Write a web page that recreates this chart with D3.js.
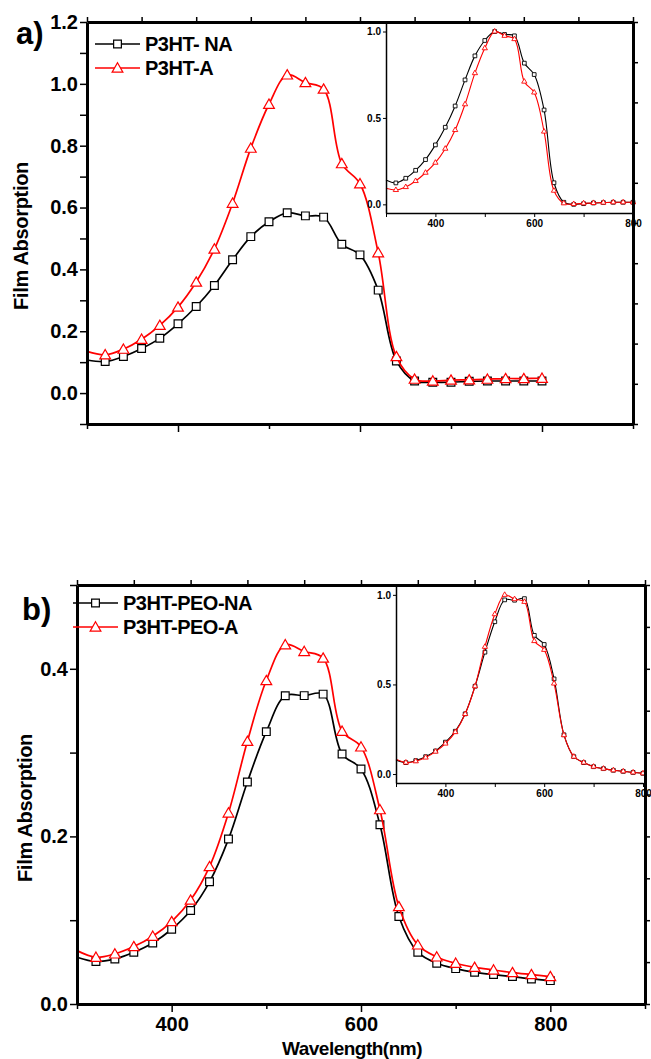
<!DOCTYPE html>
<html>
<head>
<meta charset="utf-8">
<script src="https://cdn.jsdelivr.net/npm/d3@7"></script>
<style>
body{margin:0;background:#fff}
svg text{font-family:"Liberation Sans",Arial,sans-serif;font-weight:bold;fill:#000}
</style>
</head>
<body>
<svg></svg>
<script>
// wavelength grid (nm), one marker every 20 nm
var wavelength = [300,320,340,360,380,400,420,440,460,480,500,520,540,560,580,600,620,640,660,680,700,720,740,760,780,800];

// panel a - main
var p3htNA = [0.107,0.102,0.118,0.144,0.177,0.224,0.280,0.348,0.431,0.506,0.554,0.583,0.573,0.569,0.481,0.447,0.333,0.104,0.039,0.035,0.035,0.038,0.039,0.039,0.039,0.039];
var p3htA  = [0.135,0.124,0.142,0.174,0.219,0.278,0.359,0.466,0.614,0.792,0.934,1.029,1.004,0.983,0.742,0.677,0.454,0.118,0.045,0.039,0.042,0.043,0.045,0.047,0.047,0.048];
// panel a - inset (normalised)
var p3htNAnorm = [0.141,0.124,0.151,0.197,0.259,0.344,0.446,0.569,0.720,0.859,0.948,1.000,0.983,0.975,0.817,0.751,0.546,0.125,0.012,0.000,0.004,0.008,0.010,0.012,0.012,0.012];
var p3htAnorm  = [0.093,0.083,0.100,0.135,0.183,0.241,0.322,0.430,0.579,0.759,0.903,1.000,0.975,0.956,0.710,0.647,0.421,0.079,0.006,0.002,0.006,0.008,0.010,0.012,0.012,0.012];

// panel b - main
var peoNA = [0.0558,0.0506,0.0538,0.0618,0.0729,0.0892,0.1116,0.1458,0.1968,0.265,0.325,0.3678,0.368,0.3698,0.2984,0.2805,0.214,0.1044,0.0618,0.0486,0.0422,0.0378,0.0351,0.0327,0.0299,0.0279];
var peoA  = [0.0637,0.0558,0.0598,0.0685,0.0809,0.0984,0.124,0.164,0.228,0.3135,0.386,0.4287,0.4207,0.4128,0.3255,0.3068,0.2319,0.1163,0.0705,0.0562,0.0486,0.0438,0.0406,0.0375,0.0351,0.0327];
// panel b - inset (normalised)
var peoNAnorm = [0.0785,0.0636,0.075,0.097,0.129,0.178,0.239,0.336,0.490,0.680,0.850,0.972,0.970,0.979,0.774,0.723,0.531,0.219,0.097,0.064,0.041,0.030,0.021,0.015,0.009,0.004];
var peoAnorm  = [0.082,0.064,0.071,0.092,0.125,0.170,0.234,0.335,0.490,0.710,0.892,1.000,0.976,0.961,0.742,0.693,0.505,0.217,0.097,0.064,0.041,0.030,0.021,0.015,0.009,0.004];

var mainXTicks = [300,400,500,600,700,800,900];
var majorX = [400,600,800];
var insetXTicks = [300,400,500,600,700,800];
var insetYTicks = [0,0.5,1.0];

var svg = d3.select('svg').attr('width',651).attr('height',1059);

var panels = [
  {
    tag:'a)', tagX:16, tagY:44,
    box:{left:87,right:633,top:22,bottom:424},
    yDomain:[-0.1,1.2],
    yTicks:[-0.1,0,0.1,0.2,0.3,0.4,0.5,0.6,0.7,0.8,0.9,1.0,1.1,1.2],
    yLabels:[0,0.2,0.4,0.6,0.8,1.0,1.2],
    showX:false,
    ylabelX:28, ylabelY:236,
    names:['P3HT- NA','P3HT-A'],
    main:[p3htNA,p3htA],
    norm:[p3htNAnorm,p3htAnorm],
    legend:{x1:95,x2:140,y:44,gap:24},
    inset:{left:386,right:633,top:22,bottom:213}
  },
  {
    tag:'b)', tagX:22, tagY:620,
    box:{left:77,right:645,top:585,bottom:1004},
    yDomain:[0,0.5],
    yTicks:[0,0.1,0.2,0.3,0.4,0.5],
    yLabels:[0,0.2,0.4],
    showX:true,
    ylabelX:32, ylabelY:808,
    names:['P3HT-PEO-NA','P3HT-PEO-A'],
    main:[peoNA,peoA],
    norm:[peoNAnorm,peoAnorm],
    legend:{x1:73,x2:118,y:603,gap:24},
    inset:{left:396,right:643,top:585,bottom:783}
  }
];

var colors = ['#000000','#ff0000'];
var shapes = [d3.symbolSquare, d3.symbolTriangle];

function styleAxis(g, w){
  g.select('.domain').attr('stroke','#000').attr('stroke-width',w);
  g.selectAll('.tick line').attr('stroke','#000').attr('stroke-width',1.5);
}

function pairs(vals){
  return wavelength.map(function(w,i){ return [w, vals[i]]; });
}

panels.forEach(function(p){
  var b = p.box;
  var x = d3.scaleLinear().domain([300,900]).range([b.left,b.right]);
  var y = d3.scaleLinear().domain(p.yDomain).range([b.bottom,b.top]);

  var line = d3.line()
    .x(function(d){return x(d[0]);})
    .y(function(d){return y(d[1]);})
    .curve(d3.curveCatmullRom.alpha(0.5));

  // main curves
  p.main.forEach(function(vals,i){
    var pts = pairs(vals);
    svg.append('path').datum(pts)
      .attr('d',line).attr('fill','none')
      .attr('stroke',colors[i]).attr('stroke-width',1.7);
    svg.append('g').selectAll('path')
      .data(pts.filter(function(d){return d[0]>300;}))
      .enter().append('path')
      .attr('d', d3.symbol().type(shapes[i]).size(i==0?60:50))
      .attr('transform',function(d){return 'translate('+x(d[0])+','+(y(d[1])+(i==1?1:0))+')';})
      .attr('fill','#fff').attr('stroke',colors[i]).attr('stroke-width',1.2);
  });

  // left axis
  var yAxis = d3.axisLeft(y).tickValues(p.yTicks).tickSize(7).tickSizeOuter(0).tickPadding(2)
    .tickFormat(function(d){
      var ok = p.yLabels.some(function(v){return Math.abs(v-d)<1e-6;});
      return ok ? d3.format('.1f')(d) : '';
    });
  var gy = svg.append('g').attr('transform','translate('+b.left+',0)').call(yAxis);
  styleAxis(gy,3);
  gy.selectAll('text').style('font-size','20px').attr('font-family',null);

  // bottom axis
  var xAxis = d3.axisBottom(x).tickValues(mainXTicks).tickSize(8).tickSizeOuter(0).tickPadding(5)
    .tickFormat(function(d){ return (p.showX && majorX.indexOf(d)>=0) ? d : ''; });
  var gx = svg.append('g').attr('transform','translate(0,'+b.bottom+')').call(xAxis);
  styleAxis(gx,3);
  gx.selectAll('.tick line').attr('y2',function(d){return majorX.indexOf(d)>=0?8:5;});
  gx.selectAll('text').style('font-size','20px').attr('font-family',null);

  // inset
  var ib = p.inset;
  var ix = d3.scaleLinear().domain([300,800]).range([ib.left,ib.right]);
  var iy = d3.scaleLinear().domain([-0.05,1.055]).range([ib.bottom,ib.top]);
  svg.append('rect').attr('x',ib.left).attr('y',ib.top)
    .attr('width',ib.right-ib.left).attr('height',ib.bottom-ib.top).attr('fill','#fff');
  var iline = d3.line()
    .x(function(d){return ix(d[0]);})
    .y(function(d){return iy(d[1]);})
    .curve(d3.curveCatmullRom.alpha(0.5));
  p.norm.forEach(function(vals,i){
    var pts = pairs(vals);
    svg.append('path').datum(pts)
      .attr('d',iline).attr('fill','none')
      .attr('stroke',colors[i]).attr('stroke-width',1.1);
    svg.append('g').selectAll('path')
      .data(pts.filter(function(d){return d[0]>300;}))
      .enter().append('path')
      .attr('d', d3.symbol().type(shapes[i]).size(i==0?14:12))
      .attr('transform',function(d){return 'translate('+ix(d[0])+','+iy(d[1])+')';})
      .attr('fill','#fff').attr('stroke',colors[i]).attr('stroke-width',0.9);
  });
  var giy = svg.append('g').attr('transform','translate('+ib.left+',0)')
    .call(d3.axisLeft(iy).tickValues(insetYTicks).tickSize(3).tickSizeOuter(0).tickPadding(2).tickFormat(d3.format('.1f')));
  styleAxis(giy,1.5);
  giy.selectAll('.tick line').attr('stroke-width',1);
  giy.selectAll('text').style('font-size','10px').attr('font-family',null);
  var gix = svg.append('g').attr('transform','translate(0,'+ib.bottom+')')
    .call(d3.axisBottom(ix).tickValues(insetXTicks).tickSize(4).tickSizeOuter(0).tickPadding(3)
      .tickFormat(function(d){ return majorX.indexOf(d)>=0 ? d : ''; }));
  styleAxis(gix,1.5);
  gix.selectAll('.tick line').attr('stroke-width',1);
  gix.selectAll('text').style('font-size','10px').attr('font-family',null);

  // top and right axes: ten even divisions each
  var tx = d3.scaleLinear().domain([0,10]).range([b.left,b.right]);
  var ty = d3.scaleLinear().domain([0,10]).range([b.bottom,b.top]);
  var gt = svg.append('g').attr('transform','translate(0,'+b.top+')')
    .call(d3.axisTop(tx).ticks(10).tickSize(5).tickSizeOuter(0).tickFormat(''));
  styleAxis(gt,3);
  var gr = svg.append('g').attr('transform','translate('+b.right+',0)')
    .call(d3.axisRight(ty).ticks(10).tickSize(5).tickSizeOuter(0).tickFormat(''));
  styleAxis(gr,3);

  // legend
  var lg = p.legend;
  p.names.forEach(function(n,i){
    var ly = lg.y + i*lg.gap;
    svg.append('line').attr('x1',lg.x1).attr('x2',lg.x2).attr('y1',ly).attr('y2',ly)
      .attr('stroke',colors[i]).attr('stroke-width',1.7);
    svg.append('path')
      .attr('d', d3.symbol().type(shapes[i]).size(i==0?60:50))
      .attr('transform','translate('+((lg.x1+lg.x2)/2)+','+(ly+(i==1?1:0))+')')
      .attr('fill','#fff').attr('stroke',colors[i]).attr('stroke-width',1.2);
    svg.append('text').attr('x',lg.x2+5).attr('y',ly+7)
      .style('font-size','20px').style('letter-spacing','-0.5px').text(n);
  });

  // panel tag and y title
  svg.append('text').attr('x',p.tagX).attr('y',p.tagY).style('font-size','31px').text(p.tag);
  svg.append('text')
    .attr('transform','translate('+p.ylabelX+','+p.ylabelY+') rotate(-90)')
    .attr('text-anchor','middle').style('font-size','20px').style('letter-spacing','-0.3px')
    .text('Film Absorption');

  if(p.showX){
    svg.append('text').attr('x',(b.left+b.right)/2-9).attr('y',1055)
      .attr('text-anchor','middle').style('font-size','19px').style('letter-spacing','-0.5px')
      .text('Wavelength(nm)');
  }
});
</script>
</body>
</html>
